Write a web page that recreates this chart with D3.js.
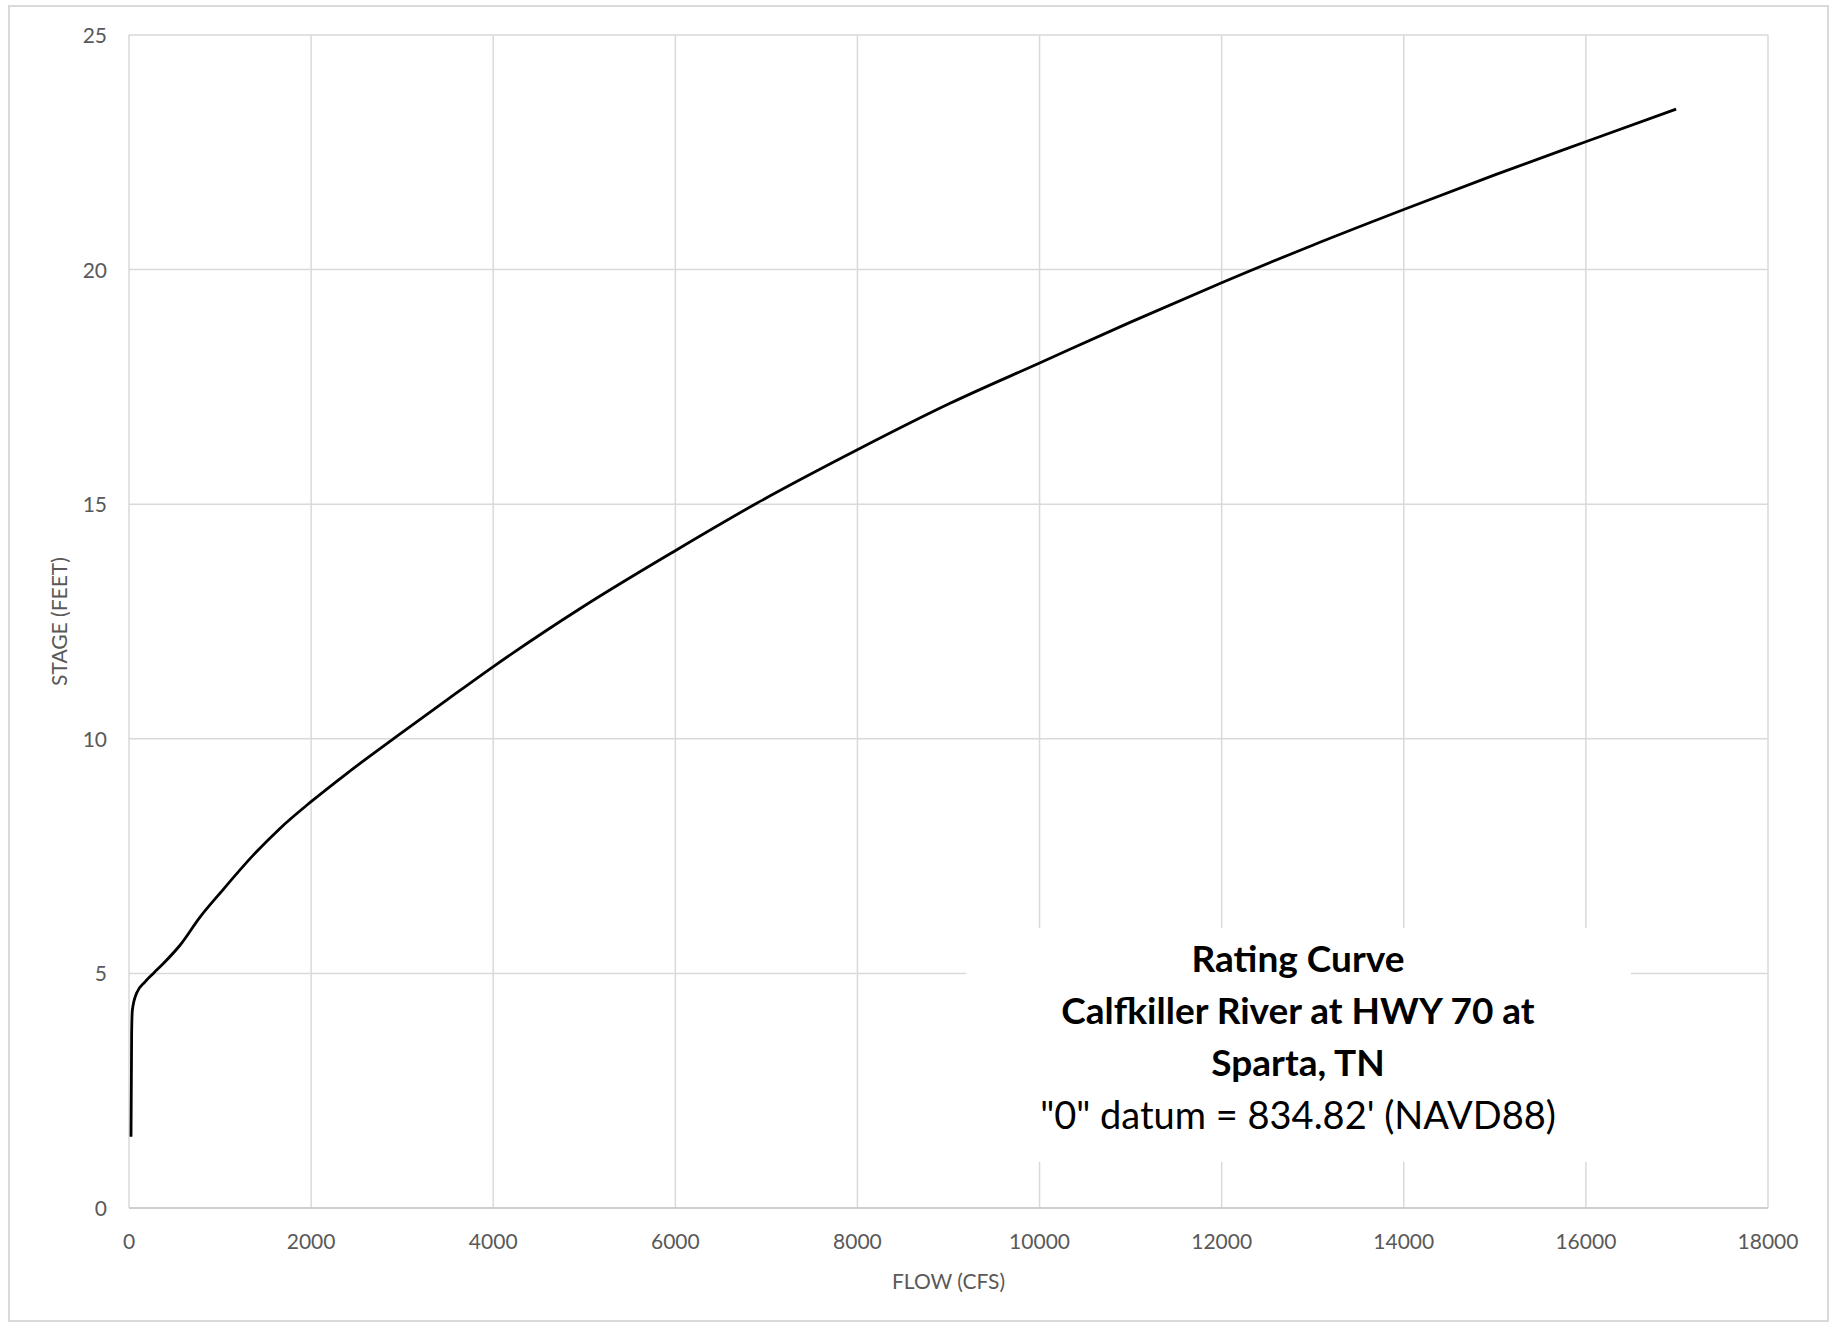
<!DOCTYPE html>
<html>
<head>
<meta charset="utf-8">
<script src="https://cdn.jsdelivr.net/npm/d3@7"></script>
<style>
  html, body { margin: 0; padding: 0; background: #fff; }
  svg { display: block; }
</style>
</head>
<body>
<svg id="chart"></svg>
<script>
// Rating curve
const flow = [22, 29, 37, 84, 176, 267, 377, 560, 780, 1000, 1365, 1658, 2000, 2391, 2940,
  3507, 4009, 4990, 6008, 6894, 7999, 9017, 10013, 11000, 12000, 13000, 14000, 15000,
  16021, 16991];
const stage = [1.52, 3.73, 4.22, 4.58, 4.82, 5.0, 5.21, 5.6, 6.2, 6.71, 7.52, 8.09, 8.66,
  9.26, 10.05, 10.85, 11.55, 12.82, 14.02, 15.02, 16.16, 17.15, 18.02, 18.88, 19.72, 20.52,
  21.28, 22.02, 22.74, 23.42];

const xTicks = d3.range(0, 18001, 2000);
const yTicks = d3.range(0, 26, 5);

const titleLines = ["Rating Curve", "Calfkiller River at HWY 70 at", "Sparta, TN"];
const datumLine = "\"0\" datum = 834.82' (NAVD88)";

const W = 1835, H = 1327;
const margin = { left: 129, right: W - 1768, top: 35, bottom: H - 1208 };
const FONT = "Lato, 'Open Sans', sans-serif";

const svg = d3.select("#chart").attr("width", W).attr("height", H);

svg.append("rect").attr("width", W).attr("height", H).attr("fill", "#fff");

// outer chart border
svg.append("rect")
  .attr("x", 9).attr("y", 6)
  .attr("width", 1828 - 9).attr("height", 1321 - 6)
  .attr("fill", "none")
  .attr("stroke", "#d9d9d9")
  .attr("stroke-width", 2);

const x = d3.scaleLinear().domain([0, 18000]).range([margin.left, W - margin.right]);
const y = d3.scaleLinear().domain([0, 25]).range([H - margin.bottom, margin.top]);

// gridlines
const grid = svg.append("g").attr("stroke", "#d9d9d9").attr("stroke-width", 1.5);
grid.selectAll("line.vg")
  .data(xTicks)
  .join("line")
  .attr("class", "vg")
  .attr("x1", (d) => x(d)).attr("x2", (d) => x(d))
  .attr("y1", y(25)).attr("y2", y(0));
grid.selectAll("line.hg")
  .data(yTicks)
  .join("line")
  .attr("class", "hg")
  .attr("x1", x(0)).attr("x2", x(18000))
  .attr("y1", (d) => y(d)).attr("y2", (d) => y(d));

// x axis baseline a touch darker
svg.append("line")
  .attr("x1", x(0)).attr("x2", x(18000))
  .attr("y1", y(0)).attr("y2", y(0))
  .attr("stroke", "#c8c8c8")
  .attr("stroke-width", 1.5);

// tick labels
svg.append("g")
  .selectAll("text")
  .data(xTicks)
  .join("text")
  .attr("x", (d) => x(d))
  .attr("y", y(0) + 41)
  .attr("text-anchor", "middle")
  .attr("font-family", FONT)
  .attr("font-size", 21)
  .attr("fill", "#595959")
  .text((d) => d);

svg.append("g")
  .selectAll("text")
  .data(yTicks)
  .join("text")
  .attr("x", 107)
  .attr("y", (d) => y(d) + 8)
  .attr("text-anchor", "end")
  .attr("font-family", FONT)
  .attr("font-size", 21)
  .attr("fill", "#595959")
  .text((d) => d);

// axis titles
svg.append("text")
  .attr("x", (x(0) + x(18000)) / 2)
  .attr("y", 1289)
  .attr("text-anchor", "middle")
  .attr("font-family", FONT)
  .attr("font-size", 21)
  .attr("fill", "#595959")
  .text("FLOW (CFS)");

svg.append("text")
  .attr("transform", `translate(67, ${(y(0) + y(25)) / 2}) rotate(-90)`)
  .attr("text-anchor", "middle")
  .attr("font-family", FONT)
  .attr("font-size", 21)
  .attr("fill", "#595959")
  .text("STAGE (FEET)");

// title box
svg.append("rect")
  .attr("x", 966).attr("y", 928)
  .attr("width", 665).attr("height", 234)
  .attr("fill", "#fff");

const tx = 1298;
const tg = svg.append("g").attr("text-anchor", "middle").attr("font-family", FONT).attr("fill", "#000");
titleLines.forEach((t, i) => {
  tg.append("text")
    .attr("x", tx)
    .attr("y", 972 + i * 52)
    .attr("font-size", 37)
    .attr("font-weight", "bold")
    .text(t);
});
tg.append("text")
  .attr("x", tx)
  .attr("y", 972 + 3 * 52 + 1)
  .attr("font-size", 38)
  .text(datumLine);

// the curve
const pts = flow.map((f, i) => [f, stage[i]]);
const line = d3.line()
  .x((d) => x(d[0]))
  .y((d) => y(d[1]))
  .curve(d3.curveMonotoneX);

svg.append("path")
  .datum(pts)
  .attr("d", line)
  .attr("fill", "none")
  .attr("stroke", "#000")
  .attr("stroke-width", 2.8)
  .attr("stroke-linejoin", "round");
</script>
</body>
</html>
